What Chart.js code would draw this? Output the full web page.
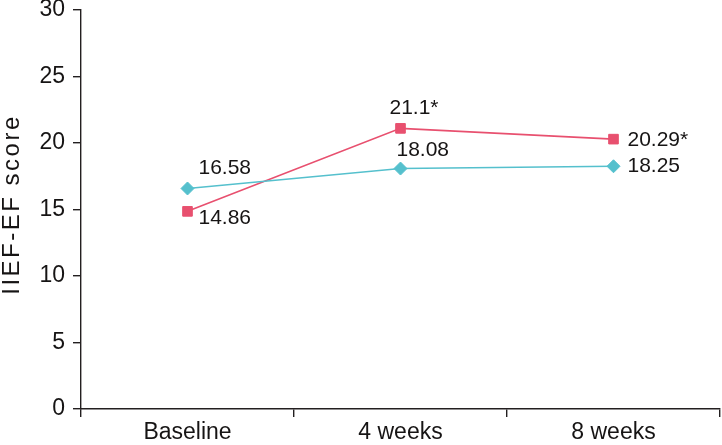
<!DOCTYPE html>
<html>
<head>
<meta charset="utf-8">
<script src="https://cdn.jsdelivr.net/npm/chart.js@4/dist/chart.umd.min.js"></script>
<style>
  html, body { margin: 0; padding: 0; background: #fff; }
  #wrap { width: 722px; height: 445px; }
</style>
</head>
<body>
<div id="wrap"><canvas id="c" width="722" height="445"></canvas></div>
<script>
const categories = ["Baseline", "4 weeks", "8 weeks"];
const redValues = [14.86, 21.1, 20.29];
const redLabels = ["14.86", "21.1*", "20.29*"];
const cyanValues = [16.58, 18.08, 18.25];
const cyanLabels = ["16.58", "18.08", "18.25"];
const yTitle = "IIEF-EF score";

const textColor = "#161414";
const font = "Liberation Sans, Arial, sans-serif";

// where each value label sits relative to its point (dx, dy)
const labelPos = {
    red: [[11, 7], [-11, -20], [14, 1]],
    cyan: [[11, -20], [-4, -18], [14, 0]]
};

const valueLabels = {
    id: 'valueLabels',
    afterDatasetsDraw(chart) {
        const ctx = chart.ctx;
        ctx.save();
        ctx.font = '21px ' + font;
        ctx.fillStyle = textColor;
        ctx.textBaseline = 'middle';
        ctx.textAlign = 'left';
        chart.data.datasets.forEach((ds, di) => {
            const meta = chart.getDatasetMeta(di);
            const pos = labelPos[ds.key];
            meta.data.forEach((pt, i) => {
                ctx.fillText(ds.texts[i], pt.x + pos[i][0], pt.y + pos[i][1]);
            });
        });
        ctx.restore();
    }
};

// rotated y title, drawn by hand so the letters can be spaced out a little
const yTitlePlugin = {
    id: 'yTitlePlugin',
    afterDraw(chart) {
        const ctx = chart.ctx, a = chart.chartArea;
        ctx.save();
        ctx.translate(12, (a.top + a.bottom) / 2 - 5);
        ctx.rotate(-Math.PI / 2);
        ctx.font = '24px ' + font;
        ctx.letterSpacing = '2.5px';
        ctx.fillStyle = textColor;
        ctx.textAlign = 'center';
        ctx.textBaseline = 'middle';
        ctx.fillText(yTitle, 0, 0);
        ctx.restore();
    }
};

new Chart(document.getElementById('c'), {
    type: 'line',
    data: {
        labels: categories,
        datasets: [
            { key: 'cyan', texts: cyanLabels, data: cyanValues, borderColor: '#55c0cd', backgroundColor: '#55c0cd',
              borderWidth: 1.6, pointStyle: 'rectRot', pointRadius: 6.5, pointHoverRadius: 6.5, pointBorderWidth: 1 },
            { key: 'red', texts: redLabels, data: redValues, borderColor: '#e8506f', backgroundColor: '#e8506f',
              borderWidth: 1.6, pointStyle: 'rect', pointRadius: 6.8, pointHoverRadius: 6.8, pointBorderWidth: 1 }
        ]
    },
    options: {
        responsive: false,
        animation: false,
        layout: { autoPadding: false, padding: { top: 0, right: 2, left: 0, bottom: 0 } },
        plugins: { legend: { display: false }, tooltip: { enabled: false } },
        scales: {
            x: {
                offset: true,
                grid: { offset: true, drawOnChartArea: false, drawTicks: true, tickLength: 8, color: '#231f20', lineWidth: 1.4 },
                border: { display: true, color: '#231f20', width: 1.4 },
                ticks: { color: textColor, font: { family: font, size: 23 }, padding: 2, maxRotation: 0 },
                afterFit(s) { s.height = 36; s.paddingLeft = 0; s.paddingRight = 0; }
            },
            y: {
                min: 0, max: 30,
                grid: { drawOnChartArea: false, drawTicks: true, tickLength: 8, color: '#231f20', lineWidth: 1.4 },
                border: { display: true, color: '#231f20', width: 1.4 },
                ticks: { stepSize: 5, color: textColor, font: { family: font, size: 23 }, padding: 8 },
                afterFit(s) { s.width = 81; s.paddingTop = 10; s.paddingBottom = 0; }
            }
        }
    },
    plugins: [valueLabels, yTitlePlugin]
});
</script>
</body>
</html>
